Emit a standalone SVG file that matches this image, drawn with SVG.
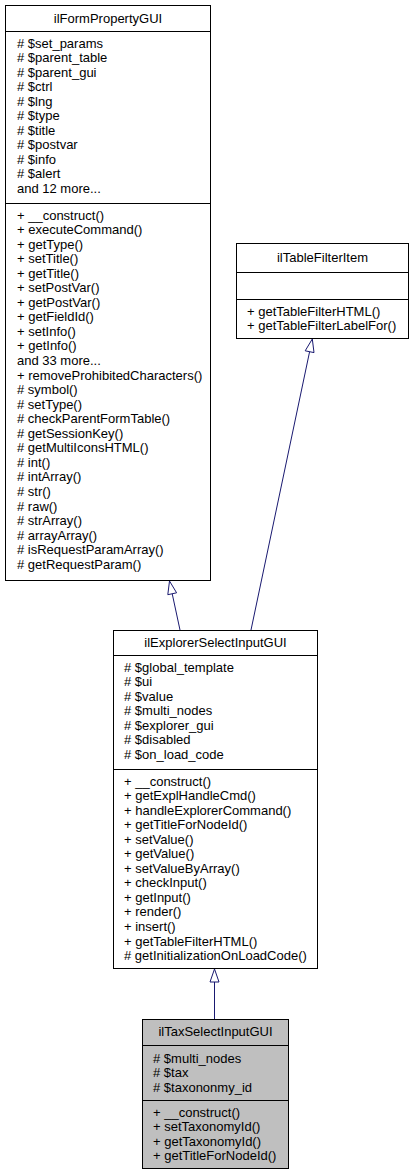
<svg xmlns="http://www.w3.org/2000/svg" width="413" height="1175" viewBox="0 0 413 1175">
<style>
text{font-family:"Liberation Sans",Arial,Helvetica,sans-serif;font-size:13px;fill:#000}
.t{text-anchor:middle}
.box{fill:#fff;stroke:#000;stroke-width:1}
.sel{fill:#bfbfbf;stroke:#000;stroke-width:1}
.div{stroke:#000;stroke-width:1}
.edge{fill:none;stroke:#191970;stroke-width:1}
.head{fill:#fff;stroke:#191970;stroke-width:1}
</style>
<rect width="413" height="1175" fill="#fff"/>
<g id="connectors">
<path class="edge" d="M251,630 L309.6,351.7"/>
<polygon class="head" points="312.3,339 314,352.6 305.2,350.8"/>
<path class="edge" d="M180,630 L172.2,593.7"/>
<polygon class="head" points="169.5,581 176.6,592.8 167.8,594.7"/>
<path class="edge" d="M214.5,1019 L214.5,982"/>
<polygon class="head" points="214.5,969 219,982 210,982"/>
</g>
<g id="ilFormPropertyGUI">
<rect class="box" x="5.5" y="5.5" width="205" height="575"/>
<line class="div" x1="5.5" y1="31.5" x2="210.5" y2="31.5"/>
<line class="div" x1="5.5" y1="203.5" x2="210.5" y2="203.5"/>
<text class="t" x="108" y="22.5">ilFormPropertyGUI</text>
<text x="17" y="47.5"><tspan x="17"># $set_params</tspan><tspan x="17" dy="14.55"># $parent_table</tspan><tspan x="17" dy="14.55"># $parent_gui</tspan><tspan x="17" dy="14.55"># $ctrl</tspan><tspan x="17" dy="14.55"># $lng</tspan><tspan x="17" dy="14.55"># $type</tspan><tspan x="17" dy="14.55"># $title</tspan><tspan x="17" dy="14.55"># $postvar</tspan><tspan x="17" dy="14.55"># $info</tspan><tspan x="17" dy="14.55"># $alert</tspan><tspan x="17" dy="14.55">and 12 more...</tspan></text>
<text x="17" y="219.5"><tspan x="17">+ __construct()</tspan><tspan x="17" dy="14.55">+ executeCommand()</tspan><tspan x="17" dy="14.55">+ getType()</tspan><tspan x="17" dy="14.55">+ setTitle()</tspan><tspan x="17" dy="14.55">+ getTitle()</tspan><tspan x="17" dy="14.55">+ setPostVar()</tspan><tspan x="17" dy="14.55">+ getPostVar()</tspan><tspan x="17" dy="14.55">+ getFieldId()</tspan><tspan x="17" dy="14.55">+ setInfo()</tspan><tspan x="17" dy="14.55">+ getInfo()</tspan><tspan x="17" dy="14.55">and 33 more...</tspan><tspan x="17" dy="14.55">+ removeProhibitedCharacters()</tspan><tspan x="17" dy="14.55"># symbol()</tspan><tspan x="17" dy="14.55"># setType()</tspan><tspan x="17" dy="14.55"># checkParentFormTable()</tspan><tspan x="17" dy="14.55"># getSessionKey()</tspan><tspan x="17" dy="14.55"># getMultiIconsHTML()</tspan><tspan x="17" dy="14.55"># int()</tspan><tspan x="17" dy="14.55"># intArray()</tspan><tspan x="17" dy="14.55"># str()</tspan><tspan x="17" dy="14.55"># raw()</tspan><tspan x="17" dy="14.55"># strArray()</tspan><tspan x="17" dy="14.55"># arrayArray()</tspan><tspan x="17" dy="14.55"># isRequestParamArray()</tspan><tspan x="17" dy="14.55"># getRequestParam()</tspan></text>
</g>
<g id="ilTableFilterItem">
<rect class="box" x="236.5" y="243.5" width="172" height="95"/>
<line class="div" x1="236.5" y1="272.5" x2="408.5" y2="272.5"/>
<line class="div" x1="236.5" y1="299.5" x2="408.5" y2="299.5"/>
<text class="t" x="322.5" y="262">ilTableFilterItem</text>
<text x="247" y="315.5"><tspan x="247">+ getTableFilterHTML()</tspan><tspan x="247" dy="14.55">+ getTableFilterLabelFor()</tspan></text>
</g>
<g id="ilExplorerSelectInputGUI">
<rect class="box" x="113.5" y="630.5" width="204" height="338"/>
<line class="div" x1="113.5" y1="655.5" x2="317.5" y2="655.5"/>
<line class="div" x1="113.5" y1="769.5" x2="317.5" y2="769.5"/>
<text class="t" x="215.5" y="646.5">ilExplorerSelectInputGUI</text>
<text x="124" y="671.5"><tspan x="124"># $global_template</tspan><tspan x="124" dy="14.55"># $ui</tspan><tspan x="124" dy="14.55"># $value</tspan><tspan x="124" dy="14.55"># $multi_nodes</tspan><tspan x="124" dy="14.55"># $explorer_gui</tspan><tspan x="124" dy="14.55"># $disabled</tspan><tspan x="124" dy="14.55"># $on_load_code</tspan></text>
<text x="124" y="785.5"><tspan x="124">+ __construct()</tspan><tspan x="124" dy="14.55">+ getExplHandleCmd()</tspan><tspan x="124" dy="14.55">+ handleExplorerCommand()</tspan><tspan x="124" dy="14.55">+ getTitleForNodeId()</tspan><tspan x="124" dy="14.55">+ setValue()</tspan><tspan x="124" dy="14.55">+ getValue()</tspan><tspan x="124" dy="14.55">+ setValueByArray()</tspan><tspan x="124" dy="14.55">+ checkInput()</tspan><tspan x="124" dy="14.55">+ getInput()</tspan><tspan x="124" dy="14.55">+ render()</tspan><tspan x="124" dy="14.55">+ insert()</tspan><tspan x="124" dy="14.55">+ getTableFilterHTML()</tspan><tspan x="124" dy="14.55"># getInitializationOnLoadCode()</tspan></text>
</g>
<g id="ilTaxSelectInputGUI">
<rect class="sel" x="142.5" y="1019.5" width="146" height="149"/>
<line class="div" x1="142.5" y1="1045.5" x2="288.5" y2="1045.5"/>
<line class="div" x1="142.5" y1="1100.5" x2="288.5" y2="1100.5"/>
<text class="t" x="215.5" y="1035.5">ilTaxSelectInputGUI</text>
<text x="153" y="1062.5"><tspan x="153"># $multi_nodes</tspan><tspan x="153" dy="14.55"># $tax</tspan><tspan x="153" dy="14.55"># $taxononmy_id</tspan></text>
<text x="153" y="1116.5"><tspan x="153">+ __construct()</tspan><tspan x="153" dy="14.55">+ setTaxonomyId()</tspan><tspan x="153" dy="14.55">+ getTaxonomyId()</tspan><tspan x="153" dy="14.55">+ getTitleForNodeId()</tspan></text>
</g>
</svg>
